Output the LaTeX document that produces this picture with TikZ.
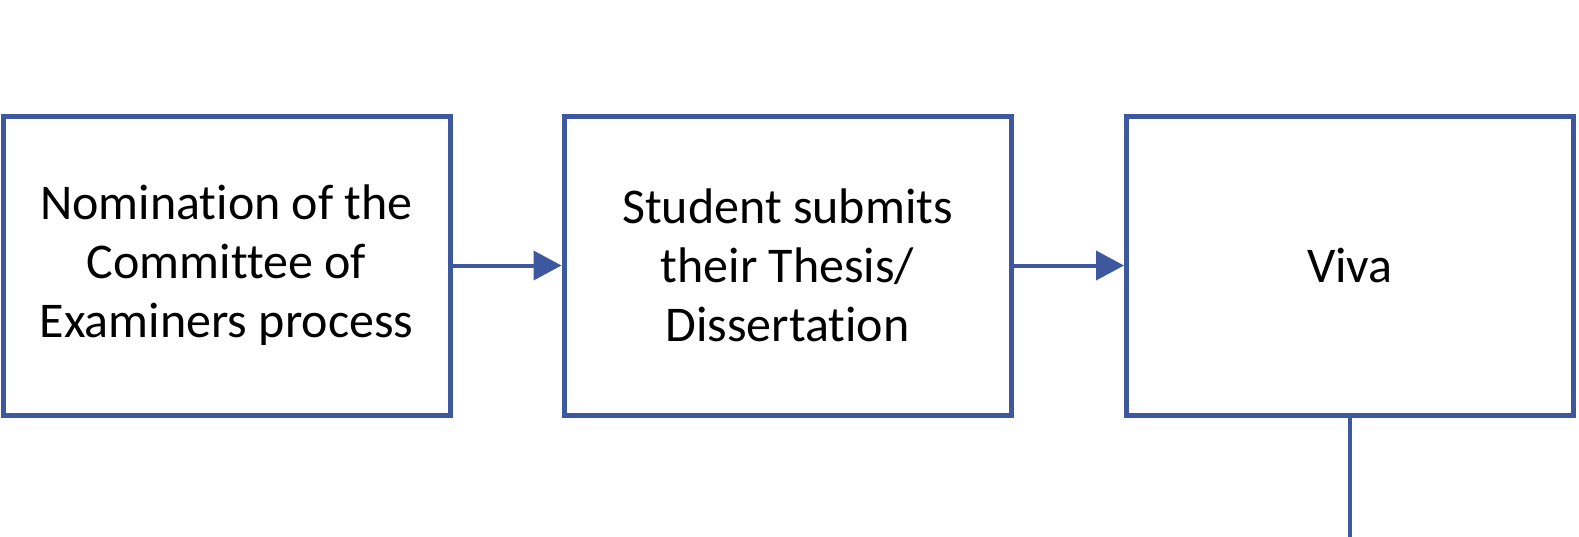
\documentclass[tikz,border=0pt]{standalone}
\usepackage{fontspec}
\setmainfont{Carlito}[Ligatures=NoCommon]
\usetikzlibrary{arrows.meta}
\definecolor{boxblue}{RGB}{62,88,160}
\begin{document}
\begin{tikzpicture}[x=1pt,y=-1pt,
  stepbox/.style={draw=boxblue, line width=5pt, minimum width=447pt, minimum height=299pt,
    inner sep=0pt, align=center, font=\fontsize{50}{59}\selectfont, text=black},
  link/.style={draw=boxblue, line width=4pt},
  arrowlink/.style={link, -{Triangle[length=28pt,width=29pt]}}]
\useasboundingbox (0,0) rectangle (1579,536);
\fill[white] (0,0) rectangle (1579,536);
\node[stepbox] (b1) at (226.5,265.5) {Nomination of the\\Committee of\\Examiners process};
\node[stepbox] (b2) at (787.5,265.5) {Student submits\\their Thesis/\\Dissertation};
\node[stepbox] (b3) at (1350,265.5) {Viva};
\coordinate (bend) at (1350,540);
\draw[arrowlink] (b1.east) -- (b2.west);
\draw[arrowlink] (b2.east) -- (b3.west);
\draw[link, line width=3.5pt] (b3.south) -- (bend);
\end{tikzpicture}
\end{document}
